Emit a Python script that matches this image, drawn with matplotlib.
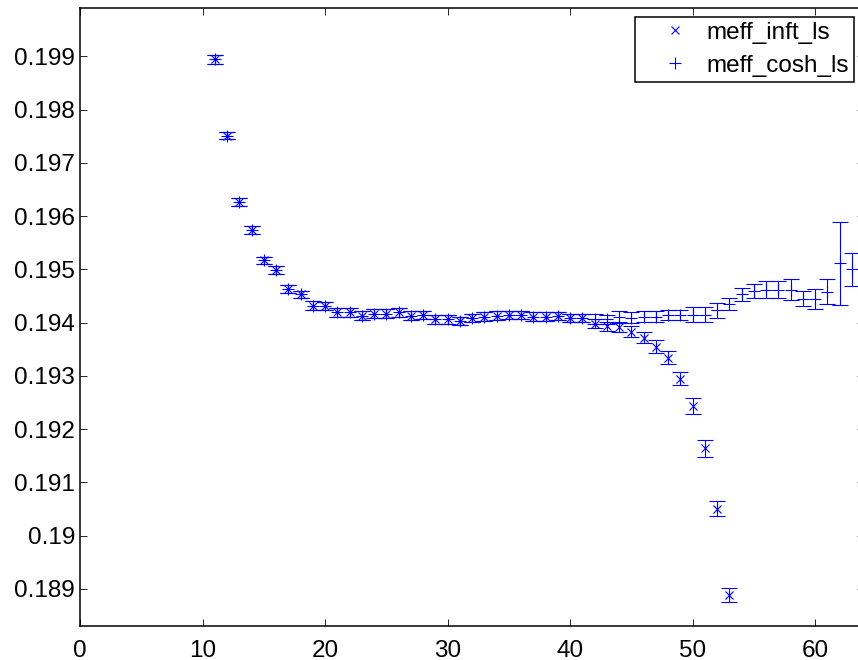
import matplotlib
matplotlib.use("Agg")
import matplotlib.pyplot as plt
from matplotlib.lines import Line2D
from matplotlib.ticker import MultipleLocator, FuncFormatter

plt.rcParams['font.family'] = ['Liberation Sans', 'DejaVu Sans']

# effective mass, infinite-volume form
t_inft = list(range(11, 54))
meff_inft = [0.19894, 0.19751, 0.19626, 0.19574, 0.19517, 0.19499, 0.19463, 0.19453,
             0.19432, 0.19431, 0.19419, 0.19419, 0.19413, 0.19417, 0.19417, 0.19419,
             0.19413, 0.19414, 0.19406, 0.19406, 0.19403, 0.19409, 0.19411, 0.19413,
             0.19414, 0.19414, 0.19411, 0.19411, 0.19412, 0.19409, 0.19409, 0.19398,
             0.19393, 0.19391, 0.19383, 0.19372, 0.19355, 0.19334, 0.19295, 0.19244,
             0.19164, 0.19051, 0.18888]
err_inft = [0.00008, 0.00007, 0.00007, 0.00007, 0.00007, 0.00007, 0.00007, 0.00007,
            0.00008, 0.00008, 0.00008, 0.00008, 0.00008, 0.00008, 0.00008, 0.00008,
            0.00008, 0.00008, 0.00008, 0.00008, 0.00008, 0.00008, 0.00008, 0.00008,
            0.00008, 0.00008, 0.00008, 0.00008, 0.00008, 0.00008, 0.00008, 0.00008,
            0.00009, 0.00009, 0.00010, 0.00010, 0.00012, 0.00012, 0.00013, 0.00015,
            0.00016, 0.00015, 0.00013]

# effective mass, cosh form
t_cosh = list(range(11, 64))
meff_cosh = [0.19894, 0.19751, 0.19626, 0.19574, 0.19517, 0.19499, 0.19463, 0.19453,
             0.19432, 0.19431, 0.19419, 0.19419, 0.19413, 0.19417, 0.19417, 0.19419,
             0.19413, 0.19414, 0.19406, 0.19406, 0.19403, 0.19409, 0.19411, 0.19413,
             0.19414, 0.19414, 0.19411, 0.19411, 0.19412, 0.19409, 0.19409, 0.19407,
             0.19406, 0.19411, 0.19409, 0.19411, 0.19411, 0.19414, 0.19414, 0.19415,
             0.19415, 0.19423, 0.19435, 0.19453, 0.19460, 0.19462, 0.19462, 0.19462,
             0.19445, 0.19445, 0.19458, 0.19511, 0.19500]
err_cosh = [0.00008, 0.00007, 0.00007, 0.00007, 0.00007, 0.00007, 0.00007, 0.00007,
            0.00008, 0.00008, 0.00008, 0.00008, 0.00008, 0.00008, 0.00008, 0.00008,
            0.00008, 0.00008, 0.00008, 0.00008, 0.00008, 0.00008, 0.00008, 0.00008,
            0.00008, 0.00008, 0.00008, 0.00008, 0.00008, 0.00008, 0.00008, 0.00009,
            0.00009, 0.00010, 0.00010, 0.00010, 0.00010, 0.00010, 0.00010, 0.00014,
            0.00014, 0.00014, 0.00012, 0.00012, 0.00013, 0.00016, 0.00016, 0.00020,
            0.00014, 0.00019, 0.00023, 0.00078, 0.00031]

fig = plt.figure(figsize=(8.58, 6.6), dpi=100)
# the right edge of the axes falls just past the picture, as in the original
ax = fig.add_axes([80 / 858, 1 - 625.7 / 660, 784 / 858, (625.7 - 8.3) / 660])

ax.errorbar(t_inft, meff_inft, yerr=err_inft, fmt='x', color='blue', ms=6, mew=0.8,
            elinewidth=0.8, capsize=5.6, capthick=0.8)
ax.errorbar(t_cosh, meff_cosh, yerr=err_cosh, fmt='+', color='blue', ms=8, mew=0.8,
            elinewidth=0.8, capsize=5.6, capthick=0.8)

ax.set_xlim(0, 64)
ax.set_ylim(0.18831, 0.19990)
ax.xaxis.set_major_locator(MultipleLocator(10))
ax.yaxis.set_major_locator(MultipleLocator(0.001))
ax.yaxis.set_major_formatter(FuncFormatter(lambda v, p: '%g' % round(v, 4)))
ax.tick_params(direction='in', top=True, right=True, length=5.3, width=0.6,
               labelsize=17.5)
ax.tick_params(axis='x', pad=10)
ax.tick_params(axis='y', pad=3.6)
for s in ax.spines.values():
    s.set_linewidth(1.1)

handles = [Line2D([], [], ls='none', marker='x', color='blue', ms=6, mew=0.8),
           Line2D([], [], ls='none', marker='+', color='blue', ms=8, mew=0.8)]
leg = ax.legend(handles, ['meff_inft_ls', 'meff_cosh_ls'], loc='upper right',
                bbox_to_anchor=(0.987, 0.986), borderaxespad=0, fontsize=17.5,
                fancybox=False, framealpha=1, edgecolor='black', borderpad=0.2,
                handlelength=2.9, handletextpad=-0.14, labelspacing=0.45)
leg.get_frame().set_linewidth(1.1)

fig.savefig('out.png', dpi=100)
